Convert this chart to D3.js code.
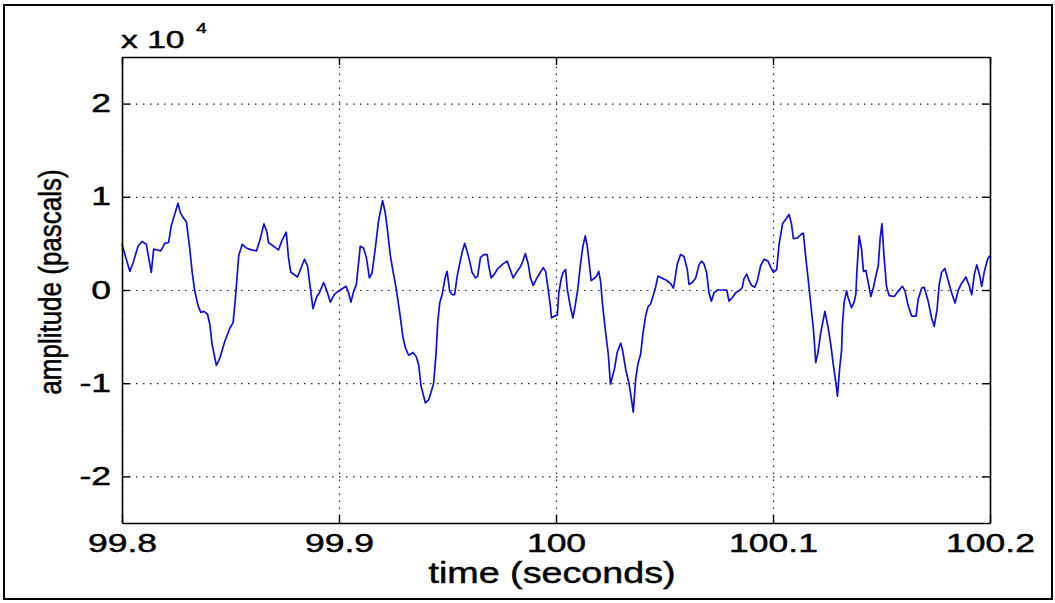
<!DOCTYPE html>
<html>
<head>
<meta charset="utf-8">
<script src="https://cdn.jsdelivr.net/npm/d3@7"></script>
<style>
  body { margin: 0; background: #fff; }
  text { font-family: "Liberation Sans", Arial, sans-serif; fill: #000; stroke: #000; stroke-width: 0.45px; }
</style>
</head>
<body>
<script>
// traced waveform: time (s) and amplitude (pascals)
const times = [
  99.8000, 99.8036, 99.8051, 99.8074, 99.8092, 99.8112, 99.8135, 99.8146, 99.8179, 99.8197,
  99.8215, 99.8227, 99.8240, 99.8258, 99.8269, 99.8281, 99.8297, 99.8312, 99.8323, 99.8335,
  99.8351, 99.8363, 99.8378, 99.8394, 99.8405, 99.8415, 99.8435, 99.8451, 99.8474, 99.8497,
  99.8512, 99.8523, 99.8538, 99.8554, 99.8573, 99.8597, 99.8620, 99.8635, 99.8654, 99.8668,
  99.8675, 99.8721, 99.8737, 99.8757, 99.8767, 99.8778, 99.8809, 99.8824, 99.8841, 99.8855,
  99.8867, 99.8880, 99.8898, 99.8910, 99.8929, 99.8944, 99.8960, 99.8978, 99.8998, 99.9033,
  99.9044, 99.9055, 99.9067, 99.9080, 99.9098, 99.9113, 99.9126, 99.9140, 99.9152, 99.9167,
  99.9182, 99.9201, 99.9213, 99.9224, 99.9236, 99.9249, 99.9264, 99.9279, 99.9295, 99.9306,
  99.9321, 99.9341, 99.9355, 99.9367, 99.9378, 99.9398, 99.9413, 99.9424, 99.9436, 99.9447,
  99.9455, 99.9464, 99.9475, 99.9482, 99.9490, 99.9498, 99.9510, 99.9521, 99.9533, 99.9544,
  99.9556, 99.9567, 99.9579, 99.9590, 99.9602, 99.9613, 99.9629, 99.9639, 99.9652, 99.9667,
  99.9683, 99.9690, 99.9701, 99.9716, 99.9732, 99.9756, 99.9775, 99.9787, 99.9803, 99.9821,
  99.9836, 99.9844, 99.9859, 99.9872, 99.9882, 99.9895, 99.9910, 99.9925, 99.9941, 99.9952,
  99.9962, 99.9975, 99.9979, 99.9993, 100.0006, 100.0013, 100.0024, 100.0033, 100.0044, 100.0052,
  100.0064, 100.0078, 100.0087, 100.0101, 100.0113, 100.0124, 100.0135, 100.0144, 100.0151, 100.0162,
  100.0174, 100.0187, 100.0197, 100.0205, 100.0216, 100.0228, 100.0241, 100.0251, 100.0259, 100.0270,
  100.0282, 100.0298, 100.0308, 100.0321, 100.0336, 100.0347, 100.0356, 100.0367, 100.0377, 100.0390,
  100.0400, 100.0413, 100.0424, 100.0436, 100.0448, 100.0459, 100.0470, 100.0485, 100.0505, 100.0528,
  100.0541, 100.0547, 100.0559, 100.0574, 100.0590, 100.0605, 100.0613, 100.0628, 100.0644, 100.0659,
  100.0670, 100.0682, 100.0694, 100.0705, 100.0716, 100.0728, 100.0744, 100.0767, 100.0787, 100.0797,
  100.0813, 100.0828, 100.0848, 100.0859, 100.0866, 100.0879, 100.0890, 100.0901, 100.0916, 100.0928,
  100.0943, 100.0959, 100.0977, 100.0990, 100.1002, 100.1017, 100.1028, 100.1044, 100.1059, 100.1074,
  100.1085, 100.1094, 100.1113, 100.1131, 100.1140, 100.1151, 100.1162, 100.1174, 100.1187, 100.1197,
  100.1208, 100.1220, 100.1239, 100.1254, 100.1266, 100.1279, 100.1290, 100.1297, 100.1308, 100.1316,
  100.1320, 100.1328, 100.1339, 100.1346, 100.1362, 100.1374, 100.1382, 100.1386, 100.1392, 100.1397,
  100.1408, 100.1417, 100.1428, 100.1439, 100.1451, 100.1463, 100.1474, 100.1485, 100.1494, 100.1502,
  100.1512, 100.1523, 100.1535, 100.1559, 100.1577, 100.1597, 100.1608, 100.1623, 100.1639, 100.1659,
  100.1669, 100.1685, 100.1697, 100.1715, 100.1731, 100.1743, 100.1756, 100.1766, 100.1777, 100.1792,
  100.1805, 100.1823, 100.1839, 100.1854, 100.1869, 100.1889, 100.1905, 100.1916, 100.1928, 100.1939,
  100.1951, 100.1962, 100.1974, 100.1989, 100.2000
];
const amps = [
  4900, 2000, 2900, 4700, 5200, 4900, 1900, 4400, 4200, 5000,
  5100, 6900, 7900, 9300, 8300, 7800, 7300, 4500, 2000, -100,
  -1700, -2400, -2300, -2600, -3700, -5800, -8100, -7300, -5500, -4100,
  -3500, -800, 3700, 4900, 4500, 4300, 4200, 5300, 7100, 6200,
  5100, 4300, 5300, 6200, 3500, 1900, 1400, 2300, 3300, 2600,
  400, -2000, -700, -300, 800, -100, -1300, -500, -100, 400,
  -300, -1300, -200, 600, 4700, 4500, 3500, 1300, 1800, 4400,
  7400, 9600, 8300, 6300, 3800, 2000, 100, -2300, -5100, -6200,
  -7000, -6700, -7100, -8000, -10300, -12100, -11800, -11000, -10000, -6900,
  -3500, -1400, -500, 400, 1400, 2000, -100, -500, -500, 1400,
  2800, 4000, 5000, 4200, 3100, 1900, 1300, 1500, 3500, 3800,
  3800, 2600, 1300, 1700, 2300, 2800, 3100, 2300, 1300, 2000,
  2500, 2900, 3900, 2800, 1300, 500, 1200, 1800, 2400, 2000,
  400, -1900, -3000, -2800, -2700, -300, 1200, 1900, 2200, 100,
  -1500, -3000, -1900, 200, 2800, 4700, 5800, 4700, 3300, 1000,
  1200, 1500, 2000, 1000, -1900, -4400, -6900, -10100, -9400, -8400,
  -6700, -5700, -6600, -8500, -10000, -11600, -13100, -9600, -8000, -6900,
  -4800, -2800, -1800, -1500, -600, 300, 1500, 1300, 1100, 700,
  200, 1000, 2800, 3800, 3600, 2200, 600, 800, 1300, 2700,
  3100, 2800, 1900, -300, -1200, -300, 0, 0, 0, -1200,
  -800, -300, 0, 300, 1200, 1700, 1000, 500, 300, 1000,
  2600, 3300, 3100, 2400, 1900, 2200, 4900, 7100, 7600, 8100,
  7100, 5500, 5600, 6000, 6100, 3500, 1200, -1500, -4400, -7800,
  -6600, -4600, -2300, -4000, -5800, -8200, -10000, -11400, -8200, -6500,
  -3700, -1300, -100, -800, -1900, -1300, -400, 1700, 4000, 5800,
  4400, 2000, 2100, 800, -700, 300, 1500, 2600, 5600, 7100,
  3500, 400, -600, -700, -100, 400, -100, -1700, -2800, -2800,
  -1000, 200, 300, -1200, -3000, -3900, -2100, 600, 1900, 2300,
  1200, -300, -1400, 0, 700, 1400, 400, -500, 1700, 2700,
  1700, 400, 2000, 3300, 3700
];
const xTicks = [99.8, 99.9, 100, 100.1, 100.2];
const yTicks = [-20000, -10000, 0, 10000, 20000];

const W = 1055, H = 603;
const margin = { top: 57, right: 65, bottom: 80, left: 122 };
const width = W - margin.left - margin.right;
const height = H - margin.top - margin.bottom;
const sx = 1.42; // text in the picture is stretched sideways

const svg = d3.select('body').append('svg')
  .attr('width', W)
  .attr('height', H);

// outer frame
svg.append('rect')
  .attr('x', 4).attr('y', 5)
  .attr('width', 1048).attr('height', 594)
  .attr('fill', 'none').attr('stroke', '#000').attr('stroke-width', 2);

const g = svg.append('g')
  .attr('transform', 'translate(' + margin.left + ',' + margin.top + ')');

const x = d3.scaleLinear().domain([99.8, 100.2]).range([0, width]);
const y = d3.scaleLinear().domain([-25000, 25000]).range([height, 0]);

// grid
g.append('g')
  .attr('class', 'grid')
  .attr('transform', 'translate(0,' + height + ')')
  .call(d3.axisBottom(x).tickValues(xTicks).tickSize(-height).tickFormat(''));
g.append('g')
  .attr('class', 'grid')
  .call(d3.axisLeft(y).tickValues(yTicks).tickSize(-width).tickFormat(''));
g.selectAll('.grid .domain').remove();
g.selectAll('.grid line')
  .attr('stroke', '#222')
  .attr('stroke-width', 1.2)
  .attr('stroke-dasharray', '1.5,5.5');

// waveform
const line = d3.line()
  .x(function(d, i) { return x(times[i]); })
  .y(function(d) { return y(d); });

g.append('path')
  .attr('d', line(amps))
  .attr('fill', 'none')
  .attr('stroke', '#1010d0')
  .attr('stroke-width', 1.7)
  .attr('stroke-linejoin', 'round');

// axes with inward ticks on all four sides
const xAxis = d3.axisBottom(x).tickValues(xTicks)
  .tickSizeInner(-8).tickSizeOuter(0).tickPadding(11)
  .tickFormat(function(d) { return String(+d.toFixed(1)); });
const yAxis = d3.axisLeft(y).tickValues(yTicks)
  .tickSizeInner(-8).tickSizeOuter(0).tickPadding(10)
  .tickFormat(function(d) { return String(d / 10000); });

const gx = g.append('g')
  .attr('transform', 'translate(0,' + height + ')')
  .call(xAxis);
const gy = g.append('g').call(yAxis);
g.append('g').call(d3.axisTop(x).tickValues(xTicks).tickSizeInner(-8).tickSizeOuter(0).tickFormat(''));
g.append('g')
  .attr('transform', 'translate(' + width + ',0)')
  .call(d3.axisRight(y).tickValues(yTicks).tickSizeInner(-8).tickSizeOuter(0).tickFormat(''));

g.selectAll('.domain').attr('stroke', '#000').attr('stroke-width', 1.6);
g.selectAll('.tick line').filter(function() { return !this.closest('.grid'); })
  .attr('stroke', '#000').attr('stroke-width', 1.4);

gx.selectAll('text')
  .attr('font-size', 25)
  .attr('font-family', '"Liberation Sans", Arial, sans-serif')
  .attr('transform', 'scale(' + sx + ',1)');
gy.selectAll('text')
  .attr('font-size', 25)
  .attr('font-family', '"Liberation Sans", Arial, sans-serif')
  .attr('x', -11 / sx)
  .attr('transform', 'scale(' + sx + ',1)');

// exponent label
svg.append('text')
  .attr('transform', 'translate(121,48) scale(1.4,1)')
  .attr('font-size', 24)
  .text('x 10');
svg.append('text')
  .attr('transform', 'translate(196,33) scale(1.3,1)')
  .attr('font-size', 15)
  .text('4');

// axis titles
svg.append('text')
  .attr('transform', 'translate(552,583) scale(1.3,1)')
  .attr('text-anchor', 'middle')
  .attr('font-size', 29)
  .text('time (seconds)');
svg.append('text')
  .attr('transform', 'translate(61,282) rotate(-90) scale(1,1.2)')
  .attr('text-anchor', 'middle')
  .attr('font-size', 26)
  .text('amplitude (pascals)');
</script>
</body>
</html>
